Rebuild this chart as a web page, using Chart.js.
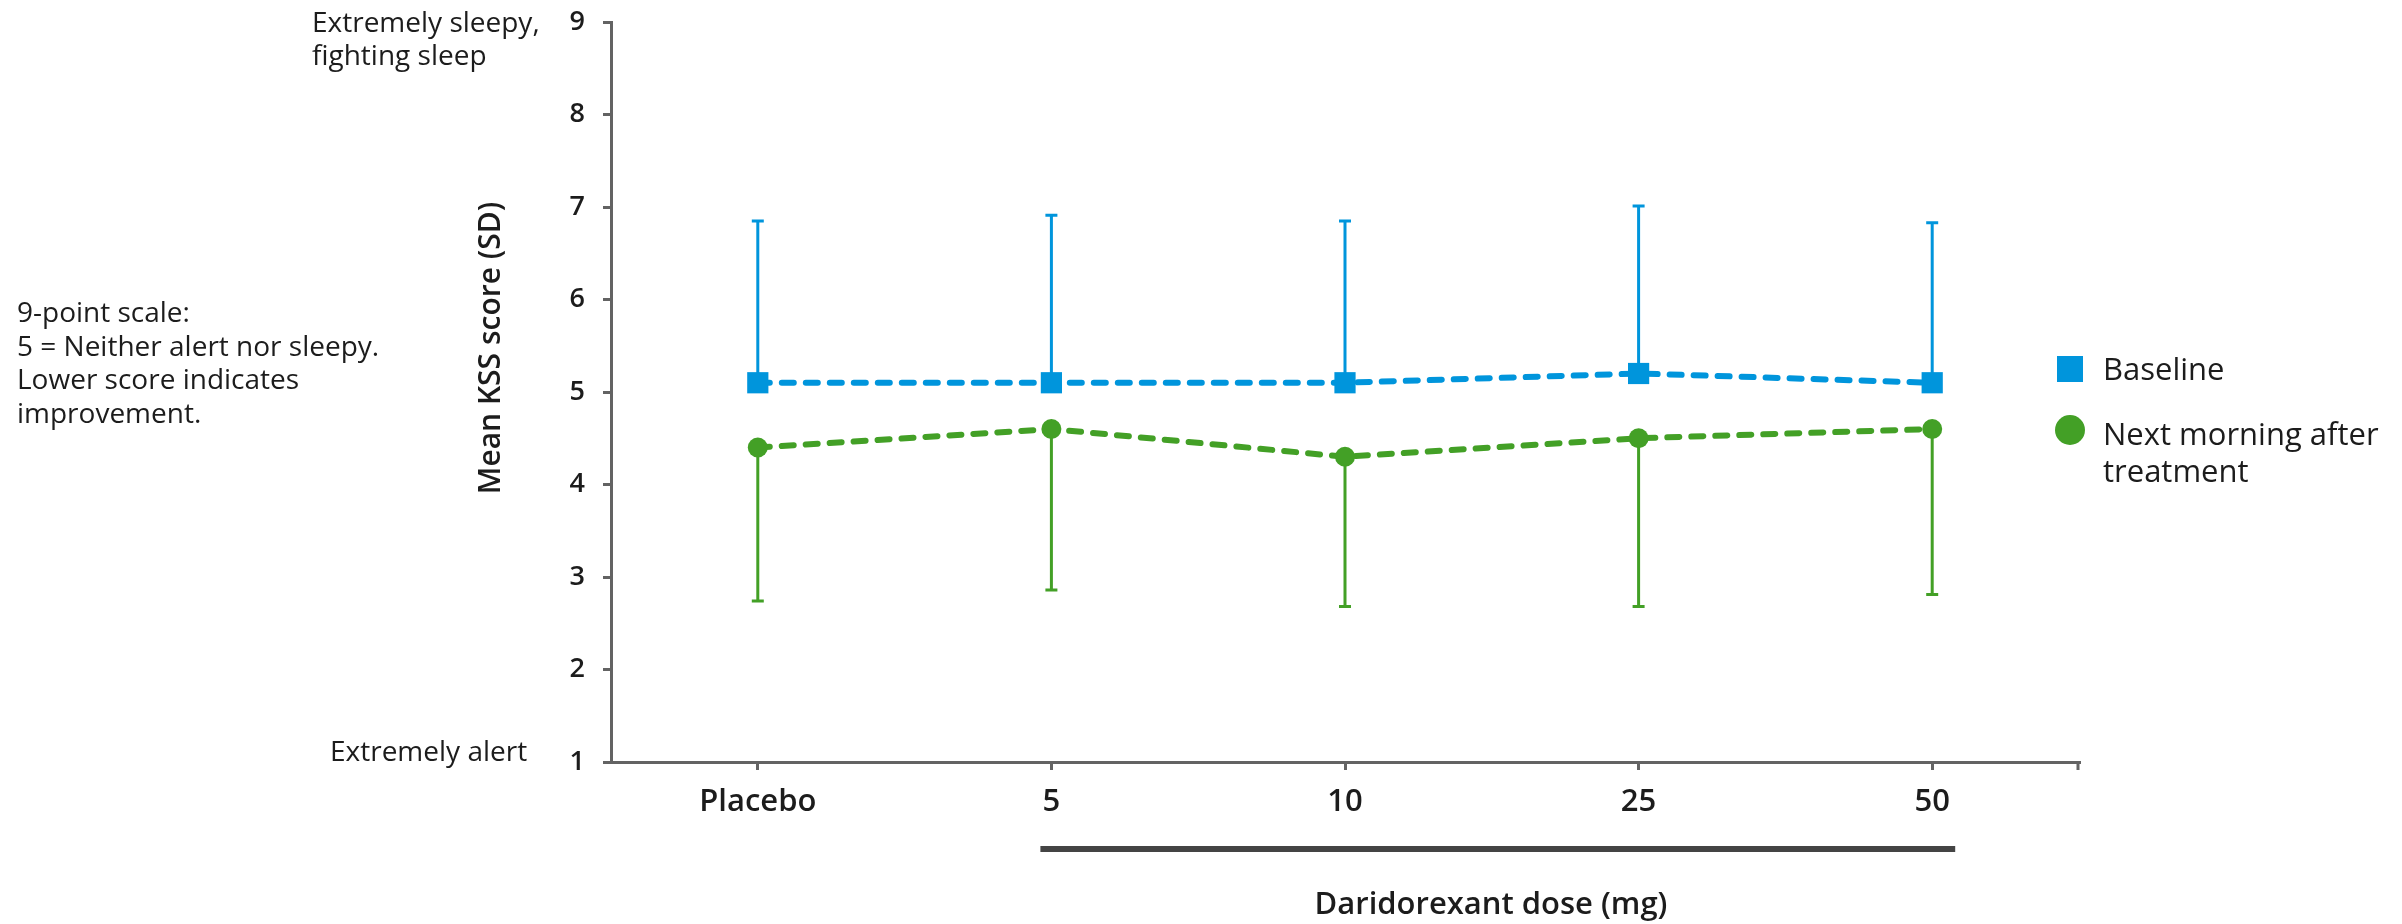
<!DOCTYPE html>
<html>
<head>
<meta charset="utf-8">
<script src="https://cdn.jsdelivr.net/npm/chart.js@4.4.1/dist/chart.umd.min.js"></script>
<style>
  html, body { margin: 0; padding: 0; background: #fff; }
  #wrap { width: 2402px; height: 924px; }
</style>
</head>
<body>
<div id="wrap"><canvas id="kss" width="2402" height="924"></canvas></div>
<script>
// KSS scores per dose group
const doses = ['Placebo', '5', '10', '25', '50'];
const baselineMean = [5.1, 5.1, 5.1, 5.2, 5.1];
const baselineSD = [1.75, 1.81, 1.75, 1.81, 1.73];
const morningMean = [4.4, 4.6, 4.3, 4.5, 4.6];
const morningSD = [1.66, 1.74, 1.62, 1.82, 1.79];
const yTicks = [1, 2, 3, 4, 5, 6, 7, 8, 9];

const BLUE = '#0095dc';
const GREEN = '#43a026';
const AXIS = '#636363';
const INK = '#1c1c1c';
const FONT = "'Open Sans', sans-serif";

// SD whiskers: baseline goes up, next morning goes down
const errorBars = {
    id: 'errorBars',
    beforeDatasetsDraw(chart) {
        const ctx = chart.ctx;
        const y = chart.scales.y;
        chart.data.datasets.forEach((ds, di) => {
            const meta = chart.getDatasetMeta(di);
            ctx.save();
            ctx.strokeStyle = ds.borderColor;
            ctx.lineWidth = 3;
            meta.data.forEach((pt, i) => {
                const end = ds.data[i] + ds.errDir * ds.sd[i];
                const yEnd = y.getPixelForValue(end);
                ctx.beginPath();
                ctx.moveTo(pt.x, pt.y);
                ctx.lineTo(pt.x, yEnd);
                ctx.moveTo(pt.x - 6, yEnd);
                ctx.lineTo(pt.x + 6, yEnd);
                ctx.stroke();
            });
            ctx.restore();
        });
    }
};

// texts around the plot, dose bracket and legend
const extras = {
    id: 'extras',
    afterDraw(chart) {
        const ctx = chart.ctx;
        const area = chart.chartArea;
        const x = chart.scales.x;
        ctx.save();

        // tick at the right end of the x axis
        ctx.strokeStyle = AXIS;
        ctx.lineWidth = 3;
        ctx.beginPath();
        ctx.moveTo(area.right - 1, area.bottom);
        ctx.lineTo(area.right - 1, area.bottom + 8);
        ctx.stroke();

        // bracket under the daridorexant doses
        const bx1 = x.getPixelForValue(1) - 11;
        const bx2 = x.getPixelForValue(4) + 23;
        ctx.fillStyle = '#444';
        ctx.fillRect(bx1, 846, bx2 - bx1, 6);

        ctx.fillStyle = INK;
        ctx.font = `600 31px ${FONT}`;
        ctx.textAlign = 'center';
        ctx.textBaseline = 'middle';
        ctx.fillText('Daridorexant dose (mg)', 1491, 905);

        // y axis title
        ctx.font = `600 30px ${FONT}`;
        ctx.save();
        ctx.translate(491, 348);
        ctx.rotate(-Math.PI / 2);
        ctx.fillText('Mean KSS score (SD)', 0, 0);
        ctx.restore();

        // scale notes
        ctx.font = `400 28px ${FONT}`;
        ctx.textAlign = 'left';
        ctx.textBaseline = 'alphabetic';
        ctx.fillText('Extremely sleepy,', 312, 32);
        ctx.fillText('fighting sleep', 312, 65);
        ctx.fillText('Extremely alert', 330, 761);
        ['9-point scale:', '5 = Neither alert nor sleepy.', 'Lower score indicates', 'improvement.']
            .forEach((t, i) => ctx.fillText(t, 17, 322 + i * 33.5));

        // legend
        ctx.fillStyle = BLUE;
        ctx.fillRect(2057, 356, 26, 26);
        ctx.fillStyle = GREEN;
        ctx.beginPath();
        ctx.arc(2070, 430, 15, 0, Math.PI * 2);
        ctx.fill();
        ctx.fillStyle = INK;
        ctx.font = `400 31px ${FONT}`;
        ctx.fillText('Baseline', 2103, 380);
        ctx.fillText('Next morning after', 2103, 445);
        ctx.fillText('treatment', 2103, 482);

        ctx.restore();
    }
};

new Chart(document.getElementById('kss'), {
    type: 'line',
    data: {
        labels: doses,
        datasets: [{
            label: 'Baseline',
            data: baselineMean,
            sd: baselineSD,
            errDir: 1,
            borderColor: BLUE,
            backgroundColor: BLUE,
            borderWidth: 6,
            borderDash: [12, 12],
            borderCapStyle: 'round',
            pointStyle: 'rect',
            pointRadius: 15,
            pointBorderWidth: 0,
            tension: 0
        }, {
            label: 'Next morning after treatment',
            data: morningMean,
            sd: morningSD,
            errDir: -1,
            borderColor: GREEN,
            backgroundColor: GREEN,
            borderWidth: 6,
            borderDash: [12, 12],
            borderCapStyle: 'round',
            pointStyle: 'circle',
            pointRadius: 10,
            pointBorderWidth: 0,
            tension: 0
        }]
    },
    options: {
        responsive: false,
        animation: false,
        layout: { padding: { top: 22, right: 323, left: 0, bottom: 0 } },
        plugins: { legend: { display: false }, tooltip: { enabled: false } },
        scales: {
            x: {
                offset: true,
                grid: { offset: false, drawOnChartArea: false, tickLength: 8, lineWidth: 3, color: AXIS },
                border: { color: AXIS, width: 3 },
                ticks: { color: INK, padding: 14, font: { family: FONT, size: 31, weight: '600' } },
                afterFit(s) { s.height = 162; }
            },
            y: {
                min: yTicks[0],
                max: yTicks[yTicks.length - 1],
                afterBuildTicks(s) { s.ticks = yTicks.map(v => ({ value: v })); },
                grid: { drawOnChartArea: false, tickLength: 8, lineWidth: 3, color: AXIS },
                border: { color: AXIS, width: 3 },
                ticks: { color: INK, padding: 18, font: { family: FONT, size: 27, weight: '600' } },
                afterFit(s) {
                    s.width = 611;
                    // the top label may overhang the plot area
                    s.paddingTop = 0;
                    s.paddingBottom = 0;
                }
            }
        }
    },
    plugins: [errorBars, extras]
});
</script>
</body>
</html>
